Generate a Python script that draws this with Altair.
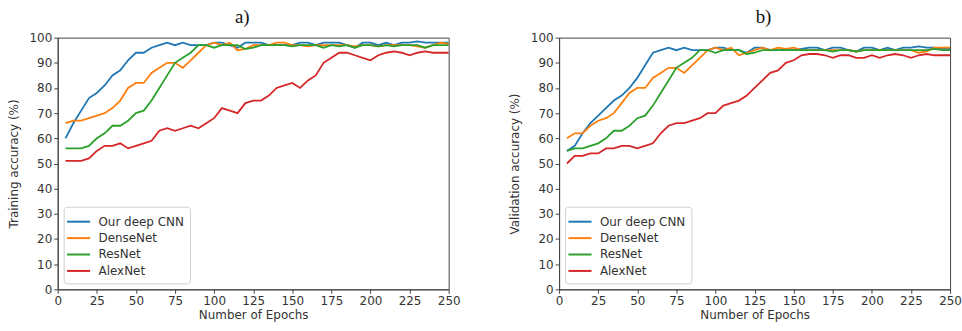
import altair as alt
import pandas as pd

epochs = list(range(5, 255, 5))
models = ["Our deep CNN", "DenseNet", "ResNet", "AlexNet"]
colors = ["#1f77b4", "#ff7f0e", "#2ca02c", "#d62728"]
x_ticks = [0, 25, 50, 75, 100, 125, 150, 175, 200, 225, 250]
y_ticks = [0, 10, 20, 30, 40, 50, 60, 70, 80, 90, 100]

train_cnn = [60, 66, 71, 76, 78, 81, 85, 87, 91, 94, 94, 96, 97, 98, 97, 98, 97, 97, 97, 98,
             98, 97, 96, 98, 98, 98, 97, 97, 97, 97, 98, 98, 97, 98, 98, 98, 97, 96, 98, 98,
             97, 98, 97, 98, 98, 98.5, 98, 98, 98, 98]
train_dense = [66, 67, 67, 68, 69, 70, 72, 75, 80, 82, 82, 86, 88, 90, 90, 88, 91, 94, 97, 98,
               97, 98, 95, 95.5, 97, 97, 97, 98, 98, 97, 97, 96.5, 97, 97, 97, 97, 97, 96.5, 97, 97,
               96.5, 97, 97, 97, 97, 96.5, 96, 97, 98, 97.5]
train_res = [56, 56, 56, 57, 60, 62, 65, 65, 67, 70, 71, 75, 80, 85, 90, 92, 94, 97, 97, 96,
             97, 97, 97, 95.5, 96, 97, 97, 97, 97, 96.5, 97, 97, 97, 96, 97, 96.5, 97, 96, 97, 97,
             96.5, 97, 96.5, 97, 97, 97, 96, 97, 97, 97]
train_alex = [51, 51, 51, 52, 55, 57, 57, 58, 56, 57, 58, 59, 63, 64, 63, 64, 65, 64, 66, 68,
              72, 71, 70, 74, 75, 75, 77, 80, 81, 82, 80, 83, 85, 90, 92, 94, 94, 93, 92, 91,
              93, 94, 94.5, 94, 93, 94, 94.5, 94, 94, 94]

val_cnn = [55, 57, 62, 66, 69, 72, 75, 77, 80, 84, 89, 94, 95, 96, 95, 96, 95, 95, 95, 96,
           96, 95, 95, 94, 96, 96, 95, 95, 95, 95, 95.5, 96, 96, 95, 96, 96, 95, 94.5, 96, 96,
           95, 96, 95, 96, 96, 96.5, 96, 96, 95.5, 95.5]
val_dense = [60, 62, 62, 65, 67, 68, 70, 74, 78, 80, 80, 84, 86, 88, 88, 86, 89, 92, 95, 96,
             95, 96, 93, 94, 95, 96, 95, 96, 95.5, 96, 95, 95, 95, 95, 95, 95, 95, 94.5, 95, 95,
             95, 95, 95, 95, 95, 94, 94.5, 96, 96, 96]
val_res = [55, 56, 56, 57, 58, 60, 63, 63, 65, 68, 69, 73, 78, 83, 88, 90, 92, 95, 95, 94,
           95, 95, 95, 93.5, 94, 95, 95, 95, 95, 95, 95, 95, 95, 95, 94.5, 95, 95, 94.5, 95, 95,
           95, 95, 95, 95, 95, 95, 95, 95.5, 95, 95]
val_alex = [50, 53, 53, 54, 54, 56, 56, 57, 57, 56, 57, 58, 62, 65, 66, 66, 67, 68, 70, 70,
            73, 74, 75, 77, 80, 83, 86, 87, 90, 91, 93, 93.5, 93.5, 93, 92, 93, 93, 92, 92, 93,
            92, 93, 93.5, 93, 92, 93, 93.5, 93, 93, 93]


def long_df(series):
    rows = []
    for name, vals in zip(models, series):
        for e, v in zip(epochs, vals):
            rows.append({"epoch": e, "acc": v, "model": name})
    return pd.DataFrame(rows)


def panel(df, ytitle, title, dx):
    return alt.Chart(
        df,
        title=alt.TitleParams(title, font="Liberation Serif", fontSize=19, fontWeight="normal",
                              color="#111", dx=dx, anchor="middle", offset=5),
    ).mark_line(strokeWidth=1.8).encode(
        x=alt.X("epoch:Q", scale=alt.Scale(domain=[0, 250], nice=False),
                axis=alt.Axis(values=x_ticks, title="Number of Epochs", labelFlush=False,
                              titlePadding=3)),
        y=alt.Y("acc:Q", scale=alt.Scale(domain=[0, 100], nice=False),
                axis=alt.Axis(values=y_ticks, title=ytitle, titlePadding=9)),
        color=alt.Color("model:N", scale=alt.Scale(domain=models, range=colors),
                        legend=alt.Legend(title=None, orient="bottom-left", offset=6,
                                          symbolType="M-1.45,0H1.45", symbolSize=256,
                                          symbolStrokeWidth=2, labelFont="DejaVu Sans",
                                          labelFontSize=12, labelColor="#333",
                                          strokeColor="#d0d0d0", cornerRadius=3,
                                          fillColor="white", padding=6, rowPadding=1.5,
                                          labelOffset=11)),
    ).properties(width=393, height=253)


left = panel(long_df([train_cnn, train_dense, train_res, train_alex]),
             "Training accuracy (%)", "a)", -11)
right = panel(long_df([val_cnn, val_dense, val_res, val_alex]),
              "Validation accuracy (%)", "b)", 9)

chart = alt.hconcat(left, right, spacing=47).resolve_scale(color="independent").configure(
    padding={"left": 6, "top": 6, "right": 0, "bottom": 0},
    background="white",
).configure_view(stroke="#444", strokeWidth=1).configure_axis(
    labelFont="DejaVu Sans", labelFontSize=12, labelColor="#333",
    titleFont="DejaVu Sans", titleFontSize=12, titleFontWeight="normal", titleColor="#333",
    domainColor="#444", tickColor="#444", tickSize=4, labelPadding=2, grid=False,
)

chart.save("out.html", embed_options={"renderer": "svg", "actions": False})
